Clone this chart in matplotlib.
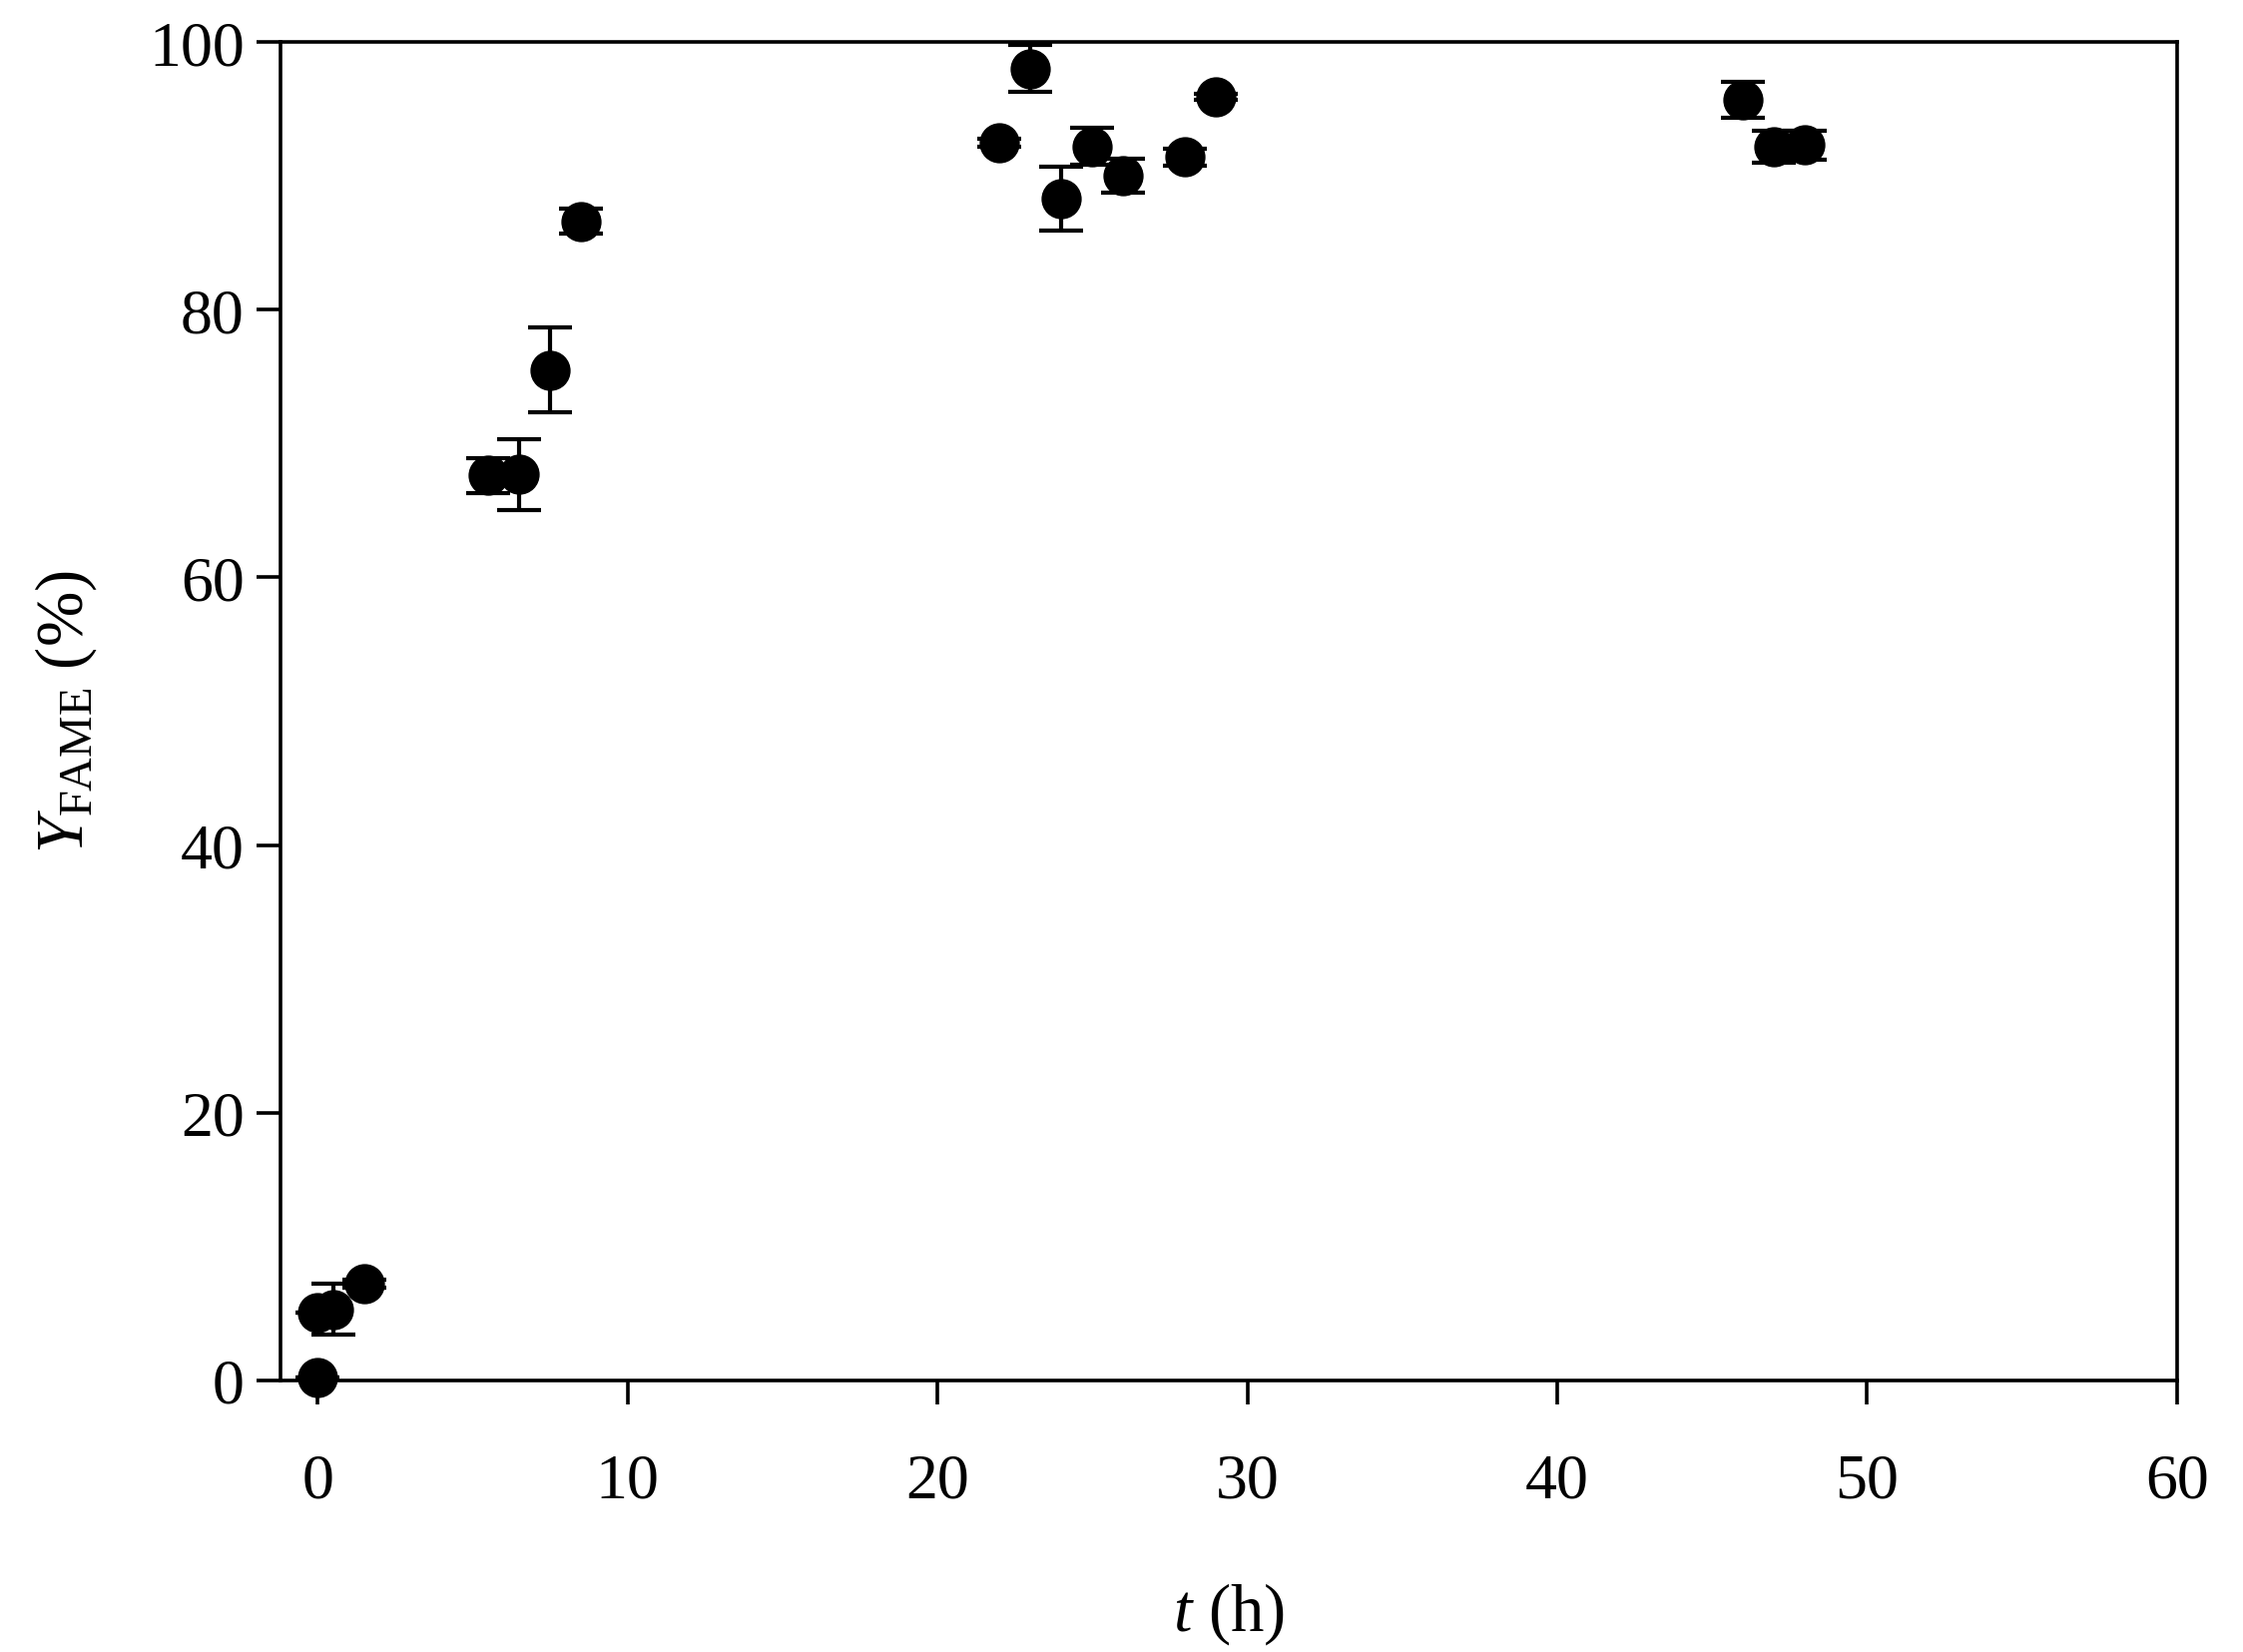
import matplotlib
matplotlib.use("Agg")
import matplotlib.pyplot as plt

# 반응 시간 (h)
t_h = [0, 0, 0.5, 1.5, 5.5, 6.5, 7.5, 8.5, 22, 23, 24, 25, 26, 28, 29, 46, 47, 48]
# FAME 수율 (%)
y_fame = [0.2, 5.1, 5.3, 7.2, 67.6, 67.7, 75.5, 86.6, 92.5, 98.0, 88.3, 92.2, 90.0, 91.4, 95.9, 95.7, 92.2, 92.3]
# 표준편차
y_err = [0.0, 0.0, 1.9, 0.3, 1.3, 2.65, 3.2, 0.95, 0.3, 1.75, 2.4, 1.4, 1.25, 0.65, 0.2, 1.35, 1.2, 1.1]

plt.rcParams["font.family"] = ["Liberation Serif", "DejaVu Serif"]
plt.rcParams["mathtext.fontset"] = "custom"
plt.rcParams["mathtext.rm"] = "Liberation Serif"
plt.rcParams["mathtext.it"] = "Liberation Serif:italic"

fig = plt.figure(figsize=(22.47, 16.56), dpi=100)
ax = fig.add_axes([0.125, 0.1643, 0.9706 - 0.125, 0.974 - 0.1643])

ax.errorbar(t_h, y_fame, yerr=y_err, fmt="o", color="black", ms=28,
            elinewidth=3, capsize=15.5, capthick=3, clip_on=False, zorder=3)

ax.set_xlim(-1.2, 60)
ax.set_ylim(0, 100)
ax.set_xticks(range(0, 61, 10))
ax.set_yticks(range(0, 101, 20))

for s in ax.spines.values():
    s.set_linewidth(2.6)
ax.tick_params(axis="both", direction="out", length=17, width=2.6, labelsize=46)
ax.tick_params(axis="x", pad=35)
ax.tick_params(axis="y", pad=9)

ax.set_xlabel("$t$ (h)", fontsize=48, labelpad=50)
ax.set_ylabel("$Y_{\\mathrm{FAME}}$ (%)", fontsize=48, labelpad=36)

fig.savefig("out.png", dpi=100)
